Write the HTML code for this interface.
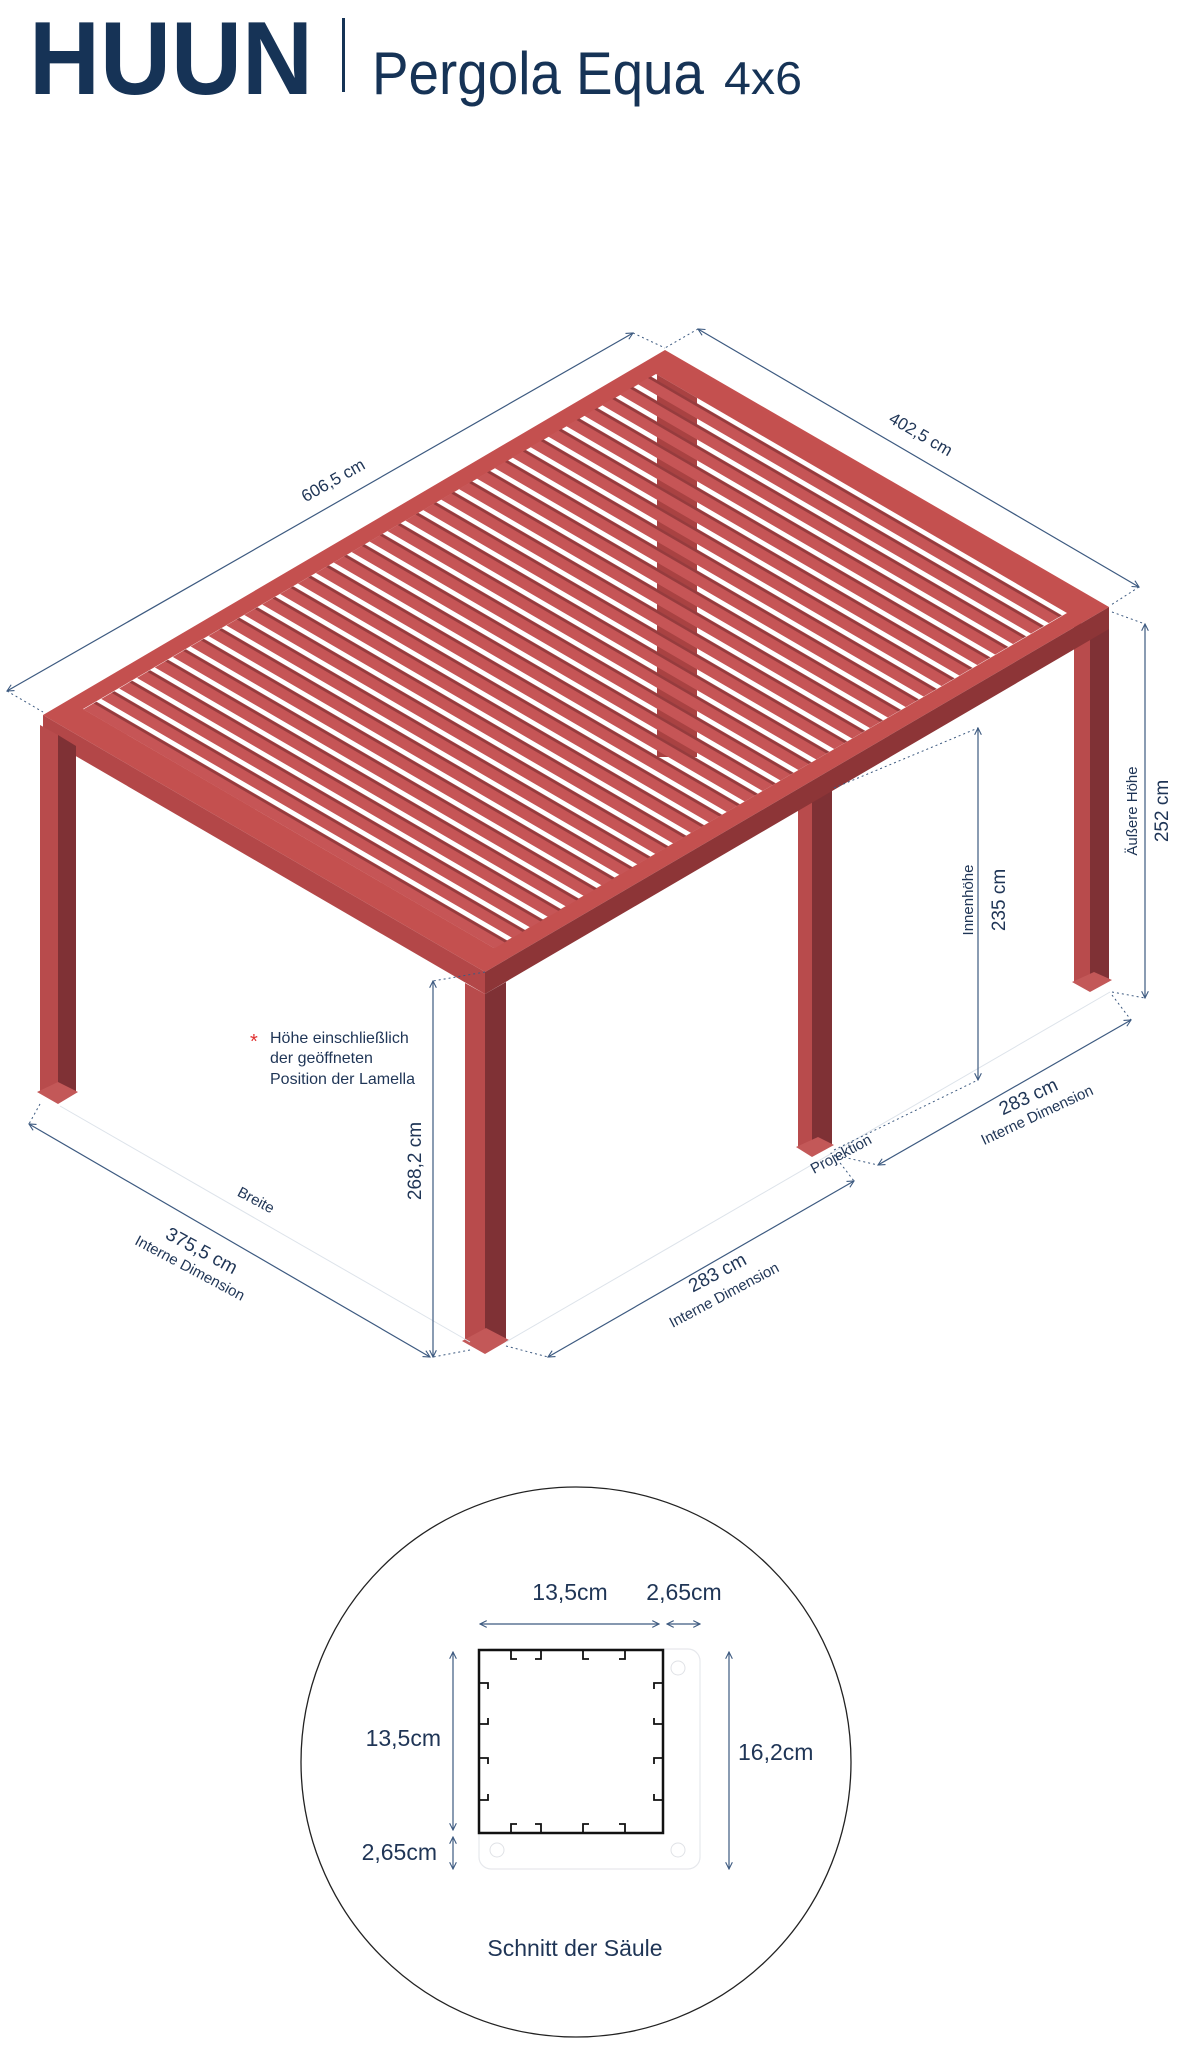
<!DOCTYPE html>
<html><head><meta charset="utf-8"><style>
html,body{margin:0;padding:0;background:#fff;}
svg{display:block;}
text{font-family:"Liberation Sans",sans-serif;fill:#1f3556;}
</style></head><body>
<svg width="1178" height="2048" viewBox="0 0 1178 2048" xmlns="http://www.w3.org/2000/svg">
<defs>
<pattern id="sl" patternUnits="userSpaceOnUse" x="0.04" y="0" width="0.02875" height="1">
<rect x="0" width="0.021" height="1" fill="#c65556"/>
<rect x="0.0165" width="0.0045" height="1" fill="#963b3d"/>
</pattern>
<clipPath id="inner"><polygon points="83,709 656,374 1067,613 494,948"/></clipPath>
<marker id="ar" viewBox="0 0 10 10" refX="9" refY="5" markerWidth="7" markerHeight="7" orient="auto-start-reverse"><path d="M1,1 L9,5 L1,9" fill="none" stroke="#3d5a80" stroke-width="1.3"/></marker>
</defs>

<!-- Header -->
<text x="29" y="94" font-size="104" font-weight="bold" style="fill:#163356" textLength="284" lengthAdjust="spacingAndGlyphs">HUUN</text>
<rect x="342" y="18" width="3" height="74" fill="#163356"/>
<text x="372" y="94" font-size="60" style="fill:#163356" textLength="332" lengthAdjust="spacingAndGlyphs">Pergola Equa</text>
<text x="724" y="94" font-size="46" style="fill:#163356" textLength="78" lengthAdjust="spacingAndGlyphs">4x6</text>

<!-- posts (back) -->
<polygon points="1074,620 1090,628 1090,990 1074,982" fill="#b84b4c"/>
<polygon points="1090,628 1109,618 1109,980 1090,990" fill="#7f3135"/>
<polygon points="1072,982 1090,992 1112,980 1094,972" fill="#c35858"/>
<polygon points="798,790 812,798 812,1155 798,1147" fill="#b84b4c"/>
<polygon points="812,798 832,786 832,1145 812,1155" fill="#7f3135"/>
<polygon points="796,1147 812,1157 834,1145 818,1137" fill="#c35858"/>

<!-- roof -->
<polygon points="665,350 1109,607 485,972 43,715" fill="#c4504f"/>
<polygon points="83,709 656,374 1067,613 494,948" fill="#ffffff"/>
<rect x="657" y="362" width="40" height="395" fill="#a94242" clip-path="url(#inner)"/>
<rect x="0.04" y="0.035" width="0.92" height="0.93" fill="url(#sl)" transform="matrix(622,-365,442,257,43,715)"/>
<polygon points="43,715 485,972 485,994 43,737" fill="#b34748"/>
<polygon points="485,972 1109,607 1109,629 485,994" fill="#8d3537"/>

<!-- left & front posts -->
<polygon points="40,725 58,735 58,1102 40,1092" fill="#b84b4c"/>
<polygon points="58,735 76,746 76,1092 58,1102" fill="#7f3135"/>
<polygon points="37,1092 58,1104 78,1092 58,1082" fill="#c35858"/>
<polygon points="465,983 485,994 485,1352 465,1341" fill="#b84b4c"/>
<polygon points="485,994 506,982 506,1340 485,1352" fill="#7f3135"/>
<polygon points="462,1341 485,1354 509,1340 486,1328" fill="#c35858"/>

<!-- faint ground lines -->
<g stroke="#dde3ea" stroke-width="1" fill="none">
<line x1="60" y1="1106" x2="470" y2="1342"/>
<line x1="506" y1="1342" x2="1110" y2="992"/>
</g>

<!-- dimension lines -->
<g stroke="#3d5a80" stroke-width="1.2" fill="none">
<line x1="7" y1="691" x2="633" y2="333" marker-start="url(#ar)" marker-end="url(#ar)"/>
<line x1="698" y1="329" x2="1139" y2="587" marker-start="url(#ar)" marker-end="url(#ar)"/>
<line x1="1145" y1="624" x2="1145" y2="998" marker-start="url(#ar)" marker-end="url(#ar)"/>
<line x1="978" y1="728" x2="978" y2="1080" marker-start="url(#ar)" marker-end="url(#ar)"/>
<line x1="433" y1="981" x2="433" y2="1357" marker-start="url(#ar)" marker-end="url(#ar)"/>
<line x1="29" y1="1124" x2="430" y2="1357" marker-start="url(#ar)" marker-end="url(#ar)"/>
<line x1="548" y1="1357" x2="854" y2="1181" marker-start="url(#ar)" marker-end="url(#ar)"/>
<line x1="878" y1="1165" x2="1131" y2="1020" marker-start="url(#ar)" marker-end="url(#ar)"/>
</g>
<g stroke="#3d5a80" stroke-width="1" stroke-dasharray="2,3" fill="none">
<line x1="7" y1="691" x2="43" y2="712"/>
<line x1="633" y1="333" x2="665" y2="348"/>
<line x1="698" y1="329" x2="665" y2="348"/>
<line x1="1139" y1="587" x2="1111" y2="605"/>
<line x1="1112" y1="612" x2="1145" y2="624"/>
<line x1="1112" y1="992" x2="1145" y2="998"/>
<line x1="1112" y1="995" x2="1131" y2="1020"/>
<line x1="834" y1="788" x2="978" y2="728"/>
<line x1="834" y1="1150" x2="978" y2="1080"/>
<line x1="485" y1="972" x2="433" y2="981"/>
<line x1="470" y1="1350" x2="433" y2="1357"/>
<line x1="40" y1="1104" x2="29" y2="1124"/>
<line x1="506" y1="1346" x2="548" y2="1357"/>
<line x1="834" y1="1155" x2="854" y2="1181"/>
<line x1="834" y1="1155" x2="878" y2="1165"/>
</g>

<!-- labels -->
<text x="333" y="486" font-size="17" text-anchor="middle" transform="rotate(-29.5 333 480)">606,5 cm</text>
<text x="921" y="440" font-size="17" text-anchor="middle" transform="rotate(30 921 434)">402,5 cm</text>
<text x="1161" y="818" font-size="19" text-anchor="middle" transform="rotate(-90 1161 811)">252 cm</text>
<text x="1132" y="816" font-size="15" text-anchor="middle" transform="rotate(-90 1132 811)">Äußere Höhe</text>
<text x="998" y="907" font-size="19" text-anchor="middle" transform="rotate(-90 998 900)">235 cm</text>
<text x="968" y="905" font-size="15" text-anchor="middle" transform="rotate(-90 968 900)">Innenhöhe</text>
<text x="414" y="1168" font-size="19" text-anchor="middle" transform="rotate(-90 414 1161)">268,2 cm</text>
<text x="250" y="1048" font-size="20" style="fill:#e03030">*</text>
<text x="270" y="1043" font-size="16">Höhe einschließlich</text>
<text x="270" y="1063" font-size="16">der geöffneten</text>
<text x="270" y="1084" font-size="16">Position der Lamella</text>
<text x="256" y="1205" font-size="15" text-anchor="middle" transform="rotate(28 256 1200)">Breite</text>
<text x="202" y="1257" font-size="19" text-anchor="middle" transform="rotate(28 202 1250)">375,5 cm</text>
<text x="190" y="1273" font-size="15" text-anchor="middle" transform="rotate(28 190 1268)">Interne Dimension</text>
<text x="717" y="1279" font-size="19" text-anchor="middle" transform="rotate(-28 717 1272)">283 cm</text>
<text x="724" y="1300" font-size="15" text-anchor="middle" transform="rotate(-28 724 1295)">Interne Dimension</text>
<text x="841" y="1159" font-size="15" text-anchor="middle" transform="rotate(-28 841 1154)">Projektion</text>
<text x="1028" y="1103" font-size="19" text-anchor="middle" transform="rotate(-25 1028 1096)">283 cm</text>
<text x="1037" y="1120" font-size="15" text-anchor="middle" transform="rotate(-25 1037 1115)">Interne Dimension</text>

<!-- section circle -->
<circle cx="576" cy="1762" r="275" fill="none" stroke="#222" stroke-width="1.3"/>
<rect x="479" y="1649" width="221" height="220" rx="12" fill="none" stroke="#e6e8ec" stroke-width="1.2"/>
<circle cx="678" cy="1668" r="7" fill="none" stroke="#e0e2e6"/>
<circle cx="497" cy="1850" r="7" fill="none" stroke="#e0e2e6"/>
<circle cx="678" cy="1850" r="7" fill="none" stroke="#e0e2e6"/>
<rect x="479" y="1650" width="184" height="183" fill="#fff" stroke="#111" stroke-width="2.5"/>
<g stroke="#111" stroke-width="1.8" fill="none">
<path d="M511,1651 v8 h6 M541,1651 v8 h-6 M583,1651 v8 h6 M625,1651 v8 h-6"/>
<path d="M511,1832 v-8 h6 M541,1832 v-8 h-6 M583,1832 v-8 h6 M625,1832 v-8 h-6"/>
<path d="M480,1683 h8 v6 M480,1724 h8 v-6 M480,1758 h8 v6 M480,1800 h8 v-6"/>
<path d="M662,1683 h-8 v6 M662,1724 h-8 v-6 M662,1758 h-8 v6 M662,1800 h-8 v-6"/>
</g>
<g stroke="#3d5a80" stroke-width="1.2" fill="none">
<line x1="480" y1="1624" x2="659" y2="1624" marker-start="url(#ar)" marker-end="url(#ar)"/>
<line x1="667" y1="1624" x2="700" y2="1624" marker-start="url(#ar)" marker-end="url(#ar)"/>
<line x1="453" y1="1652" x2="453" y2="1830" marker-start="url(#ar)" marker-end="url(#ar)"/>
<line x1="453" y1="1837" x2="453" y2="1869" marker-start="url(#ar)" marker-end="url(#ar)"/>
<line x1="729" y1="1652" x2="729" y2="1869" marker-start="url(#ar)" marker-end="url(#ar)"/>
</g>
<text x="570" y="1600" font-size="23" text-anchor="middle">13,5cm</text>
<text x="684" y="1600" font-size="23" text-anchor="middle">2,65cm</text>
<text x="441" y="1746" font-size="23" text-anchor="end">13,5cm</text>
<text x="437" y="1860" font-size="23" text-anchor="end">2,65cm</text>
<text x="738" y="1760" font-size="23">16,2cm</text>
<text x="575" y="1956" font-size="23" text-anchor="middle">Schnitt der Säule</text>
</svg>
</body></html>
